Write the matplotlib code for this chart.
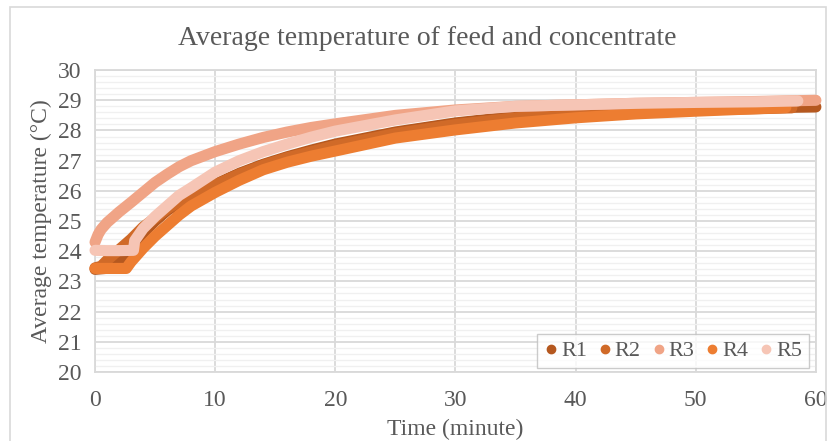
# Average feed/concentrate temperature for runs R1-R5
import matplotlib
matplotlib.use('Agg')
import matplotlib.pyplot as plt
from matplotlib.lines import Line2D
from matplotlib.patches import Rectangle

plt.rcParams['font.family'] = ['Liberation Serif', 'DejaVu Serif']

# readings (minute, degC)
t_r1 = [0, 1.5, 2, 3, 4, 5, 6, 7, 8, 10, 12, 14, 16, 18, 20, 25, 30, 35, 40, 45, 50, 55, 60]
T_r1 = [23.4, 23.45, 23.7, 24.15, 24.6, 25.0, 25.35, 25.6, 25.85, 26.22, 26.58, 26.88, 27.13,
        27.35, 27.55, 27.95, 28.25, 28.47, 28.58, 28.66, 28.71, 28.75, 28.78]

t_r2 = [0, 0.5, 1, 2, 3, 4, 5, 6, 7, 8, 10, 12, 14, 16, 18, 20, 25, 30, 35, 40, 45, 50, 55, 58]
T_r2 = [23.45, 23.5, 23.7, 24.05, 24.4, 24.8, 25.1, 25.4, 25.65, 25.85, 26.2, 26.55, 26.85, 27.1,
        27.3, 27.5, 27.9, 28.2, 28.42, 28.55, 28.63, 28.68, 28.72, 28.75]

t_r3 = [0, 0.25, 0.5, 1, 2, 3, 4, 5, 6, 7, 8, 10, 12, 14, 16, 18, 20, 25, 30, 35, 40, 45, 50, 55, 60]
T_r3 = [24.3, 24.55, 24.72, 24.95, 25.3, 25.62, 25.95, 26.28, 26.55, 26.8, 27.0, 27.3, 27.55, 27.77,
        27.95, 28.1, 28.22, 28.5, 28.68, 28.8, 28.85, 28.9, 28.93, 28.96, 29.0]

t_r4 = [0, 1, 2, 2.6, 3, 4, 5, 6, 7, 8, 10, 12, 14, 16, 18, 20, 25, 30, 35, 40, 45, 50, 55, 57.5]
T_r4 = [23.43, 23.43, 23.43, 23.43, 23.65, 24.1, 24.5, 24.85, 25.2, 25.5, 25.95, 26.35, 26.7, 26.95,
        27.15, 27.32, 27.75, 28.02, 28.25, 28.42, 28.55, 28.64, 28.72, 28.76]

t_r5 = [0, 1, 2, 3.2, 3.3, 4, 5, 6, 7, 8, 10, 12, 14, 16, 18, 20, 25, 30, 35, 40, 45, 50, 55, 58.5]
T_r5 = [24.03, 24.02, 24.02, 24.03, 24.35, 24.75, 25.15, 25.5, 25.85, 26.1, 26.62, 27.0, 27.3, 27.55,
        27.78, 27.98, 28.35, 28.65, 28.8, 28.85, 28.9, 28.93, 28.95, 28.98]

runs = ['R1', 'R2', 'R3', 'R4', 'R5']
series = [(t_r1, T_r1), (t_r2, T_r2), (t_r3, T_r3), (t_r4, T_r4), (t_r5, T_r5)]
colors = ['#B5581F', '#D06A28', '#F0A486', '#ED7D31', '#F6C5B5']

text_col = '#595959'
grid_major = '#D9D9D9'
grid_minor = '#F0F0F0'

fig = plt.figure(figsize=(8.3, 4.41), dpi=100)
ax = fig.add_axes([0.1145, 0.1565, 0.8685, 0.6845])

# chart-area outline
fig.patches.append(Rectangle((10 / 830, -0.01), 816 / 830, 1 - 7 / 441 + 0.01,
                             transform=fig.transFigure, fill=False,
                             edgecolor='#D9D9D9', linewidth=1.2))

for (t, T), c in zip(series, colors):
    ax.plot(t, T, color=c, linewidth=8, solid_capstyle='round',
            solid_joinstyle='round', zorder=3, clip_on=False)

ax.set_xlim(0, 60)
ax.set_ylim(20, 30)
ax.set_xticks(range(0, 61, 10))
ax.set_yticks(range(20, 31))
ax.set_yticks([20 + i * 0.2 for i in range(51)], minor=True)
ax.grid(True, which='major', color=grid_major, linewidth=1.3, zorder=1)
ax.grid(True, which='minor', axis='y', color=grid_minor, linewidth=1.0, zorder=0)
ax.set_axisbelow(True)
for s in ax.spines.values():
    s.set_color(grid_major)
    s.set_linewidth(1.3)
ax.tick_params(which='both', length=0, labelsize=17, colors=text_col)
ax.tick_params(axis='x', pad=13)
ax.tick_params(axis='y', pad=10)

ax.set_xlabel('Time (minute)', fontsize=17, color=text_col, labelpad=6)
ax.set_ylabel('Average temperature (\u00b0C)', fontsize=17, color=text_col, labelpad=4)
fig.text(0.515, 0.912, 'Average temperature of feed and concentrate', ha='center',
         va='center', fontsize=20, color=text_col)

handles = [Line2D([], [], linestyle='none', marker='o', markersize=6,
                  markerfacecolor=c, markeredgecolor=c) for c in colors]
leg = ax.legend(handles, runs, ncol=5, loc='lower right', bbox_to_anchor=(0.99, 0.013),
                fontsize=16, frameon=True, fancybox=False, handletextpad=0.1,
                columnspacing=0.45, borderpad=0.3, handlelength=0.7, borderaxespad=0)
leg.get_frame().set_edgecolor('#BFBFBF')
leg.get_frame().set_linewidth(1.0)
for txt in leg.get_texts():
    txt.set_color(text_col)

plt.savefig('out.png', dpi=100)
